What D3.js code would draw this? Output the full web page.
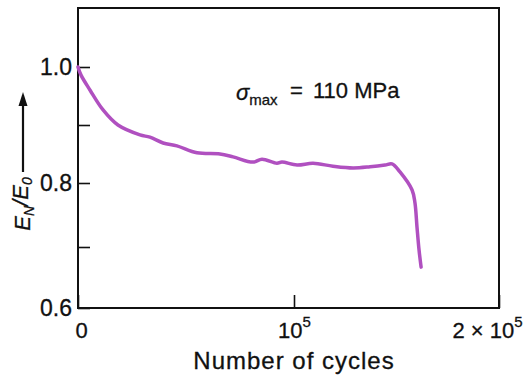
<!DOCTYPE html>
<html><head><meta charset="utf-8">
<script src="https://cdn.jsdelivr.net/npm/d3@7"></script>
<style>
html,body{margin:0;padding:0;background:#fff;}
svg text{font-family:"Liberation Sans","DejaVu Sans",sans-serif;fill:#111;}
</style></head>
<body><svg id="c" width="524" height="376"></svg>
<script>
// data
const cycles = [0,1400,5600,11600,18500,28700,33300,39400,45800,55100,65700,71800,81000,85200,92100,94400,101500,109300,119000,128800,137100,144400,147800,151700,157600,159000,160000,161000,162000];
const ratio  = [1.0,0.986,0.960,0.926,0.900,0.883,0.879,0.869,0.864,0.852,0.850,0.845,0.836,0.841,0.834,0.836,0.831,0.834,0.829,0.826,0.828,0.831,0.833,0.819,0.789,0.769,0.731,0.695,0.667];
const yTicks = [0.6,0.7,0.8,0.9,1.0];
const yLabels = {"0.6":"0.6","0.8":"0.8","1":"1.0"};
const xTicks = [0,1e5,2e5];
const xTickLabels = [["0",""],["10","5"],["2 \u00d7 10","5"]];
const annotation = {main:"\u03c3", sub:"max", eq:"=", rest:"110 MPa"};

const svg = d3.select("#c");
const x = d3.scaleLinear().domain([0,1e5,2e5]).range([78,294,499]);
const y = d3.scaleLinear().domain([0.6,0.7,0.8,0.9,1.0,1.1]).range([308,247,183,125,67,8]);

// frame
svg.append("rect").attr("x",x(0)).attr("y",y(1.1)).attr("width",x(2e5)-x(0)).attr("height",y(0.6)-y(1.1))
  .attr("fill","none").attr("stroke","#111").attr("stroke-width",2);

// y axis
const ya = svg.append("g").attr("transform",`translate(${x(0)},0)`)
  .call(d3.axisLeft(y).tickValues(yTicks).tickSize(-12).tickPadding(6)
    .tickFormat(d=>yLabels[String(+d.toFixed(1))]||""));
ya.select(".domain").remove();
ya.selectAll("line").attr("stroke","#111").attr("stroke-width",1.6);
ya.selectAll("text").attr("font-size",23).attr("fill","#111").attr("font-family",null)
  .attr("stroke","#111").attr("stroke-width",0.3);

// x axis
const xa = svg.append("g").attr("transform",`translate(0,${y(0.6)})`)
  .call(d3.axisBottom(x).tickValues(xTicks).tickSize(-13).tickPadding(9).tickFormat(""));
xa.select(".domain").remove();
xa.selectAll("line").attr("stroke","#111").attr("stroke-width",1.6);
xa.selectAll(".tick text").each(function(d,i){
  const t=d3.select(this).attr("font-size",22).attr("font-family",null).attr("dy","0.95em")
    .attr("stroke","#111").attr("stroke-width",0.3);
  t.text(null);
  t.append("tspan").text(xTickLabels[i][0]);
  if(xTickLabels[i][1]) t.append("tspan").attr("font-size",15).attr("dy","-0.7em").text(xTickLabels[i][1]);
});
xa.selectAll(".tick").filter((d,i)=>i===0).select("text").attr("dx",3);
xa.selectAll(".tick").filter((d,i)=>i===2).select("text").attr("text-anchor","end").attr("dx",23);

// axis title x
svg.append("text").attr("x",x(1e5)).attr("y",369).attr("text-anchor","middle")
  .attr("font-size",24).style("letter-spacing","1px").attr("stroke","#111").attr("stroke-width",0.3)
  .text("Number of cycles");

// y title, rotated, with arrow
const yt = svg.append("g").attr("transform","translate(30,204) rotate(-90)");
const t = yt.append("text").attr("text-anchor","middle").attr("font-size",22).attr("font-style","italic")
  .attr("stroke","#111").attr("stroke-width",0.3);
t.append("tspan").text("E");
t.append("tspan").attr("font-size",14).attr("dy","0.25em").text("N");
t.append("tspan").attr("dy","-0.25em").text("/E");
t.append("tspan").attr("font-size",14).attr("dy","0.25em").text("0");
svg.append("line").attr("x1",23).attr("x2",23).attr("y1",172).attr("y2",102)
  .attr("stroke","#111").attr("stroke-width",2.2);
svg.append("path").attr("d","M23,92 L18.5,106 L27.5,106 Z").attr("fill","#111");

// curve
const pts = cycles.map((c,i)=>[c,ratio[i]]);
svg.append("path").datum(pts)
  .attr("d",d3.line().x(d=>x(d[0])).y(d=>y(d[1])).curve(d3.curveCatmullRom.alpha(0.5)))
  .attr("fill","none").attr("stroke","#b050c0").attr("stroke-width",3.5)
  .attr("stroke-linejoin","round").attr("stroke-linecap","round");

// annotation
const an = svg.append("text").attr("x",236).attr("y",100).attr("font-size",22)
  .attr("stroke","#111").attr("stroke-width",0.3);
an.append("tspan").attr("font-style","italic").text(annotation.main);
an.append("tspan").attr("font-size",15).attr("dy","0.3em").text(annotation.sub);
an.append("tspan").attr("x",290).attr("dy","-0.3em").text(annotation.eq);
an.append("tspan").attr("x",313).text(annotation.rest);
</script></body></html>
